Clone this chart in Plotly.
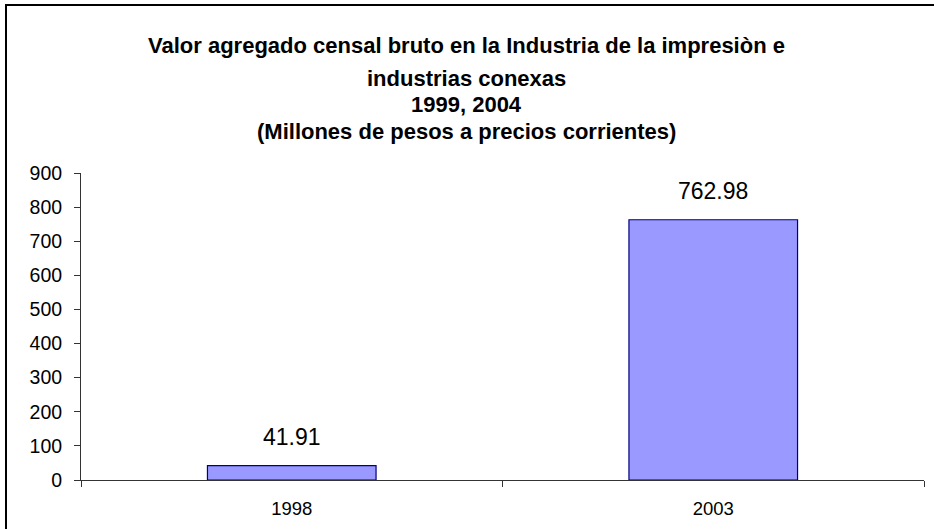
import plotly.graph_objs as go

years = ['1998', '2003']
valor = [41.91, 762.98]
title_lines = [
    'Valor agregado censal bruto en la Industria de la impresiòn e',
    'industrias conexas',
    '1999, 2004',
    '(Millones de pesos a precios corrientes)',
]
y_ticks = [0, 100, 200, 300, 400, 500, 600, 700, 800, 900]

W, H = 934, 529
L, R, T, B = 81, 10, 173, 49
pw, ph = W - L - R, H - T - B

def px_x(x):
    return (x - L) / pw

def px_y(y):
    return (H - B - y) / ph

data = [
    go.Bar(x=years, y=valor,
           marker=dict(color='#9999FF',
                       line=dict(color='#000080', width=1.2)),
           width=0.4,
           hoverinfo='x+y'),
]

annotations = []
# title, one line per annotation to keep the Excel line spacing
for i, line in enumerate(title_lines):
    annotations.append(dict(text='<b>' + line + '</b>', xref='paper', yref='paper',
                            x=px_x(466), y=px_y([45, 78, 105, 132][i]),
                            xanchor='center', yanchor='middle', showarrow=False,
                            font=dict(size=22, color='black')))
# value labels above the bars (x as category index, '2003' would be read as a number)
for i, v in enumerate(valor):
    annotations.append(dict(text='%.2f' % v, x=i, y=v, xref='x', yref='y',
                            yanchor='bottom', yshift=14, showarrow=False,
                            font=dict(size=23, color='black')))

layout = go.Layout(
    width=W, height=H,
    margin=dict(l=L, r=R, t=T, b=B),
    paper_bgcolor='white', plot_bgcolor='white',
    font=dict(family='Liberation Sans, Arial, sans-serif', color='black'),
    showlegend=False,
    xaxis=dict(type='category', range=[-0.5, 1.5], showline=True, linecolor='#333333',
               linewidth=1, ticks='outside', tickson='boundaries', ticklen=6,
               tickcolor='#333333', ticklabelstandoff=12,
               tickfont=dict(size=18.5), showgrid=False, zeroline=False),
    yaxis=dict(range=[0, 900], tickvals=y_ticks, showline=True, linecolor='#333333',
               linewidth=1, ticks='outside', ticklen=6, tickcolor='#333333',
               ticklabelstandoff=8,
               tickfont=dict(size=19.5), showgrid=False, zeroline=False),
    annotations=annotations,
    shapes=[dict(type='rect', xref='paper', yref='paper',
                 x0=px_x(6), x1=px_x(960), y0=px_y(560), y1=px_y(5),
                 line=dict(color='black', width=2), layer='below')],
)

fig = go.Figure(data=data, layout=layout)
# page body has an 8px margin by default, drop it so the chart sits at 0,0
fig.write_html("out.html", config={'displayModeBar': False},
               post_script="document.body.style.margin='0';document.body.style.overflow='hidden';")
